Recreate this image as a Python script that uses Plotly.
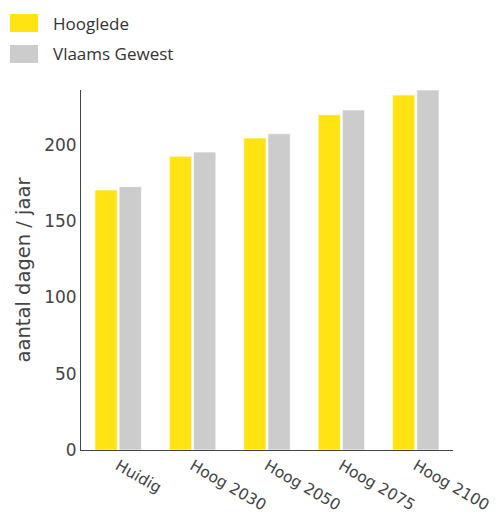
import plotly.graph_objects as go

categories = ["Huidig", "Hoog 2030", "Hoog 2050", "Hoog 2075", "Hoog 2100"]
hooglede = [170.5, 192.6, 204.6, 219.9, 232.8]
vlaams = [172.7, 195.4, 207.4, 223.0, 236.1]
series_names = ["Hooglede", "Vlaams Gewest"]
colors = ["#FFE313", "#CCCCCC"]
y_ticks = [0, 50, 100, 150, 200]

AXFONT = "DejaVu Sans, Verdana, sans-serif"

fig = go.Figure()
fig.add_trace(go.Bar(x=categories, y=hooglede, name=series_names[0],
                     marker=dict(color=colors[0], line=dict(color="rgba(255,255,255,0.6)", width=1)),
                     showlegend=False))
fig.add_trace(go.Bar(x=categories, y=vlaams, name=series_names[1],
                     marker=dict(color=colors[1], line=dict(color="rgba(255,255,255,0.6)", width=1)),
                     showlegend=False))

# page has an 8px body margin: positions below are in page px minus 8
OFF = 8
L, T, PW, PH = 81 - OFF, 90 - OFF, 372, 360

def px(x):
    return (x - OFF - L) / PW

def py(y):
    return (T + PH - (y - OFF)) / PH

# manual legend (large swatches as in reference)
legend_y = [23, 54]
for i, (nm, col) in enumerate(zip(series_names, colors)):
    fig.add_shape(type="rect", xref="paper", yref="paper",
                  x0=px(10), x1=px(38),
                  y0=py(legend_y[i] + 9), y1=py(legend_y[i] - 9),
                  fillcolor=col, line=dict(width=0))
    fig.add_annotation(xref="paper", yref="paper", x=px(51),
                       y=py(legend_y[i]), text=nm, showarrow=False,
                       xanchor="left", yanchor="middle",
                       font=dict(family="Open Sans", size=17, color="#333333"))

fig.update_layout(
    width=500, height=513,
    margin=dict(l=L, r=500 - L - PW, t=T, b=513 - T - PH, autoexpand=False),
    paper_bgcolor="white", plot_bgcolor="white",
    barmode="group", bargap=0.35, bargroupgap=0.08,
    font=dict(family=AXFONT, color="#444444"),
    xaxis=dict(tickangle=30, tickfont=dict(family=AXFONT, size=15.5, color="#444444"),
               showline=True, linecolor="#444444", linewidth=1,
               ticks="", showgrid=False, automargin=False),
    yaxis=dict(range=[0, 236.1], tickvals=y_ticks,
               tickfont=dict(family=AXFONT, size=17, color="#444444"),
               showline=True, linecolor="#444444", linewidth=1, ticks="",
               showgrid=False, zeroline=False, automargin=False,
               title=dict(text="aantal dagen / jaar",
                          font=dict(family=AXFONT, size=19.5, color="#444444"), standoff=8)),
)

fig.write_html("out.html")
